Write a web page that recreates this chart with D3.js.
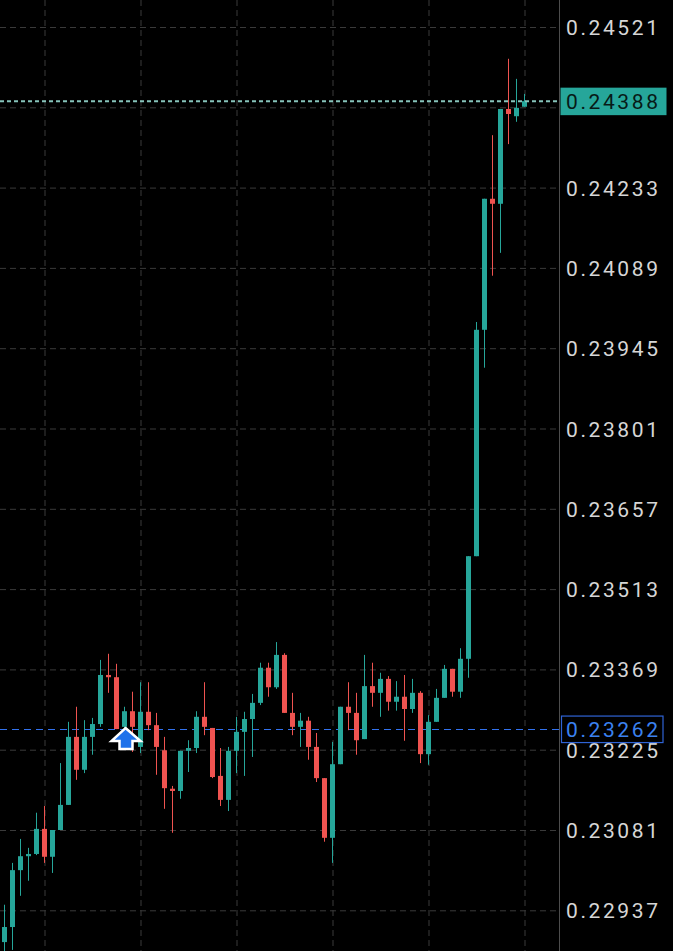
<!DOCTYPE html>
<html>
<head>
<meta charset="utf-8">
<script src="https://cdn.jsdelivr.net/npm/d3@7"></script>
<style>
  html, body { margin: 0; padding: 0; background: #000; overflow: hidden; }
  svg { display: block; }
</style>
</head>
<body>
<svg id="chart" width="673" height="951"></svg>
<script>
// ---- Data ----
const openP  = [0.22880,0.22907,0.23009,0.23034,0.23038,0.23083,0.23033,0.23081,0.23126,0.23248,
                0.23189,0.23248,0.23271,0.23359,0.23355,0.23266,0.23294,0.23230,0.23293,0.23269,
                0.23224,0.23155,0.23151,0.23223,0.23228,0.23284,0.23264,0.23178,0.23135,0.23223,
                0.23257,0.23280,0.23309,0.23372,0.23337,0.23395,0.23291,0.23266,0.23277,0.23230,
                0.23174,0.23067,0.23199,0.23302,0.23291,0.23244,0.23339,0.23327,0.23352,0.23311,
                0.23320,0.23298,0.23327,0.23217,0.23275,0.23318,0.23370,0.23329,0.23388,0.23572,
                0.23978,0.24213,0.24204,0.24374,0.24361,0.24378];
const highP  = [0.22947,0.23022,0.23065,0.23049,0.23112,0.23124,0.23081,0.23201,0.23275,0.23302,
                0.23278,0.23282,0.23386,0.23397,0.23379,0.23302,0.23329,0.23346,0.23346,0.23291,
                0.23248,0.23160,0.23223,0.23242,0.23294,0.23346,0.23264,0.23228,0.23230,0.23284,
                0.23293,0.23325,0.23381,0.23381,0.23418,0.23398,0.23327,0.23291,0.23284,0.23255,
                0.23174,0.23239,0.23302,0.23346,0.23327,0.23395,0.23381,0.23363,0.23357,0.23348,
                0.23359,0.23352,0.23330,0.23287,0.23334,0.23377,0.23370,0.23407,0.23572,0.23992,
                0.24213,0.24327,0.24374,0.24464,0.24428,0.24401];
const lowP   = [0.22864,0.22866,0.22963,0.22990,0.23036,0.23022,0.23004,0.23081,0.23126,0.23171,
                0.23183,0.23216,0.23266,0.23327,0.23262,0.23251,0.23221,0.23219,0.23260,0.23180,
                0.23119,0.23076,0.23137,0.23185,0.23219,0.23251,0.23174,0.23124,0.23115,0.23183,
                0.23178,0.23212,0.23305,0.23320,0.23334,0.23291,0.23251,0.23230,0.23207,0.23167,
                0.23060,0.23022,0.23199,0.23260,0.23216,0.23244,0.23302,0.23284,0.23295,0.23295,
                0.23241,0.23291,0.23201,0.23198,0.23275,0.23318,0.23320,0.23318,0.23354,0.23572,
                0.23910,0.24075,0.24116,0.24311,0.24351,0.24378];
const closeP = [0.22907,0.23009,0.23034,0.23038,0.23083,0.23033,0.23081,0.23126,0.23248,0.23189,
                0.23248,0.23271,0.23359,0.23355,0.23262,0.23294,0.23266,0.23293,0.23269,0.23230,
                0.23156,0.23151,0.23223,0.23228,0.23284,0.23266,0.23176,0.23135,0.23223,0.23257,
                0.23280,0.23309,0.23372,0.23337,0.23395,0.23291,0.23266,0.23277,0.23230,0.23174,
                0.23067,0.23199,0.23302,0.23291,0.23242,0.23339,0.23327,0.23352,0.23311,0.23320,
                0.23298,0.23327,0.23217,0.23275,0.23318,0.23370,0.23329,0.23388,0.23572,0.23978,
                0.24213,0.24204,0.24374,0.24365,0.24376,0.24388];

const priceTicks  = [0.24521,0.24377,0.24233,0.24089,0.23945,0.23801,0.23657,0.23513,0.23369,0.23225,0.23081,0.22937];
const tickLabels  = ["0.24521","","0.24233","0.24089","0.23945","0.23801","0.23657","0.23513","0.23369","0.23225","0.23081","0.22937"];
const timeGridIdx = [5,17,29,41,53,65];
const lastPrice   = 0.24388;
const lastLabel   = "0.24388";
const entryPrice  = 0.23262;
const entryLabel  = "0.23262";
const signalIdx   = 15;

const candles = openP.map((o,i) => ({i, o, h: highP[i], l: lowP[i], c: closeP[i]}));

// ---- Layout ----
const W = 673, H = 951;
const plotRight = 559;
const up = "#26a69a", down = "#ef5350";
const gridColor = "#3a3a3a";

const svg = d3.select("#chart");
svg.append("rect").attr("width", W).attr("height", H).attr("fill", "#000");

const x = d3.scaleLinear().domain([0, 65]).range([4.5, 524.5]);
const y = d3.scaleLinear().domain([0.22937, 0.24521]).range([910.3, 27]);

// Vertical grid
const vGrid = svg.append("g").attr("class", "vgrid")
  .call(d3.axisBottom(x).tickValues(timeGridIdx).tickSize(H).tickFormat(""));
vGrid.select(".domain").remove();
vGrid.selectAll(".tick line").attr("stroke", gridColor).attr("stroke-dasharray", "6,4").attr("stroke-width", 1);

// Horizontal grid
const hGrid = svg.append("g").attr("class", "hgrid")
  .call(d3.axisRight(y).tickValues(priceTicks).tickSize(plotRight).tickFormat(""));
hGrid.select(".domain").remove();
hGrid.selectAll(".tick line").attr("stroke", gridColor).attr("stroke-dasharray", "6,4").attr("stroke-width", 1);

// Axis separator
svg.append("line").attr("x1", plotRight + 0.5).attr("x2", plotRight + 0.5)
  .attr("y1", 0).attr("y2", H).attr("stroke", "#4d4d4d").attr("stroke-width", 1);

// Price axis labels
const axis = svg.append("g").attr("transform", `translate(${plotRight},0)`)
  .call(d3.axisRight(y).tickValues(priceTicks).tickSize(0).tickPadding(7)
        .tickFormat((d,i) => tickLabels[i]));
axis.select(".domain").remove();
axis.selectAll("text")
  .attr("fill", "#d6d6d6")
  .attr("font-family", "Roboto, 'Noto Sans', sans-serif")
  .attr("font-size", 21)
  .attr("letter-spacing", "2.6px")
  .attr("dy", "0.36em");

// Entry (blue) dashed line
svg.append("line").attr("x1", 0).attr("x2", plotRight)
  .attr("y1", Math.round(y(entryPrice)) + 0.5).attr("y2", Math.round(y(entryPrice)) + 0.5)
  .attr("stroke", "#3272ee").attr("stroke-width", 1.2).attr("stroke-dasharray", "7,5");

// Candles
const cg = svg.append("g").attr("class", "candles");
const cs = cg.selectAll("g").data(candles).join("g");
cs.append("line")
  .attr("x1", d => x(d.i)).attr("x2", d => x(d.i))
  .attr("y1", d => y(d.h)).attr("y2", d => y(d.l))
  .attr("stroke", d => d.c >= d.o ? up : down).attr("stroke-width", 1);
cs.append("rect")
  .attr("x", d => x(d.i) - 2.5)
  .attr("width", 5)
  .attr("y", d => y(Math.max(d.o, d.c)))
  .attr("height", d => Math.max(1.5, Math.abs(y(d.o) - y(d.c))))
  .attr("fill", d => d.c >= d.o ? up : down);

// Last price dotted line
const yl = y(lastPrice);
svg.append("line").attr("x1", 0).attr("x2", plotRight)
  .attr("y1", yl).attr("y2", yl)
  .attr("stroke", "#86c4bb").attr("stroke-width", 2).attr("stroke-dasharray", "4,3");

// Buy arrow under signal candle
const ax = x(signalIdx) + 1, ay = y(entryPrice) - 1;
const arrowPath = `M${ax},${ay} L${ax+15},${ay+13} L${ax+7},${ay+13} L${ax+7},${ay+21} L${ax-6},${ay+21} L${ax-6},${ay+13} L${ax-14},${ay+13} Z`;
svg.append("path").attr("d", arrowPath)
  .attr("fill", "#1f72ea").attr("stroke", "#ffffff").attr("stroke-width", 2.5).attr("stroke-linejoin", "miter");

// Last price badge
svg.append("rect").attr("x", 560.5).attr("y", yl - 13.5).attr("width", 106).attr("height", 27.5)
  .attr("fill", "#26a69a");
svg.append("text").attr("x", 566).attr("y", yl).attr("dy", "0.36em")
  .attr("fill", "#071a17")
  .attr("font-family", "Roboto, 'Noto Sans', sans-serif")
  .attr("font-size", 21).attr("letter-spacing", "2.6px")
  .text(lastLabel);

// Entry price badge
const ye = y(entryPrice);
svg.append("rect").attr("x", 561.5).attr("y", ye - 13).attr("width", 101.5).attr("height", 26.5)
  .attr("fill", "#000").attr("stroke", "#2f63d6").attr("stroke-width", 1.2);
svg.append("text").attr("x", 566).attr("y", ye).attr("dy", "0.36em")
  .attr("fill", "#3b82f0")
  .attr("font-family", "Roboto, 'Noto Sans', sans-serif")
  .attr("font-size", 21).attr("letter-spacing", "2.6px")
  .text(entryLabel);
</script>
</body>
</html>
